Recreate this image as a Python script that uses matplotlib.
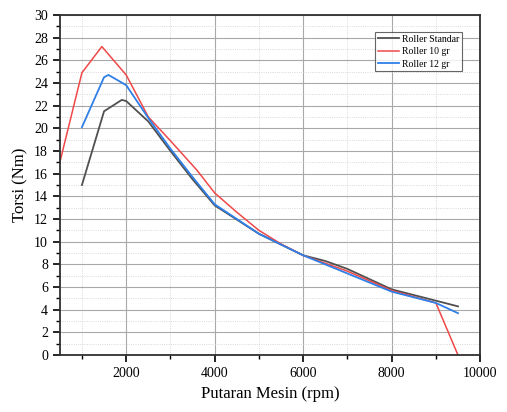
import numpy as np
import matplotlib.pyplot as plt
from matplotlib.ticker import MultipleLocator

rpm_std = [1000, 1500, 1900, 2000, 2500, 3000, 3500, 4000, 5000, 6000, 6500, 7000, 7500, 8000, 9000, 9500]
torsi_std = [15.0, 21.5, 22.5, 22.4, 20.6, 18.0, 15.5, 13.2, 10.7, 8.8, 8.3, 7.6, 6.7, 5.8, 4.8, 4.3]

rpm_10 = [500, 1000, 1450, 2000, 2500, 3000, 3600, 4000, 4500, 5000, 5500, 6000, 7000, 8000, 9000, 9500]
torsi_10 = [17.0, 24.9, 27.2, 24.7, 21.0, 18.9, 16.3, 14.3, 12.6, 11.0, 9.8, 8.8, 7.4, 5.7, 4.6, 0.0]

rpm_12 = [1000, 1500, 1600, 2000, 2500, 3000, 3500, 4000, 5000, 6000, 7000, 8000, 9000, 9500]
torsi_12 = [20.1, 24.5, 24.7, 23.8, 20.9, 18.2, 15.7, 13.3, 10.7, 8.8, 7.2, 5.6, 4.6, 3.7]

plt.rcParams['font.family'] = ['Liberation Serif', 'DejaVu Serif']

fig = plt.figure(figsize=(5.07, 4.12), dpi=100)
ax = fig.add_axes([0.118, 0.138, 0.829, 0.826])

ax.plot(rpm_std, torsi_std, color="#505050", lw=1.3, label="Roller Standar")
ax.plot(rpm_10, torsi_10, color="#f04848", lw=1.1, label="Roller 10 gr")
ax.plot(rpm_12, torsi_12, color="#2f7fe8", lw=1.3, label="Roller 12 gr")

ax.set_xlim(500, 10000)
ax.set_ylim(0, 30)
ax.xaxis.set_major_locator(MultipleLocator(2000))
ax.xaxis.set_minor_locator(MultipleLocator(1000))
ax.yaxis.set_major_locator(MultipleLocator(2))
ax.yaxis.set_minor_locator(MultipleLocator(1))

ax.grid(which="major", color="#a8a8a8", lw=0.8)
ax.grid(which="minor", color="#cccccc", lw=0.6, ls=":")
ax.set_axisbelow(True)

ax.tick_params(which="major", direction="out", length=5, width=1.2, labelsize=10)
ax.tick_params(which="minor", direction="out", length=3, width=1)
for s in ax.spines.values():
    s.set_linewidth(1.3)
    s.set_color("#303030")

ax.set_xlabel("Putaran Mesin (rpm)", fontsize=12)
ax.set_ylabel("Torsi (Nm)", fontsize=12)

leg = ax.legend(loc="upper right", bbox_to_anchor=(0.957, 0.95), borderaxespad=0,
                fontsize=7, frameon=True, fancybox=False, edgecolor="#404040",
                handlelength=2.2, borderpad=0.3, labelspacing=0.35, handletextpad=0.3)
leg.get_frame().set_linewidth(0.8)

fig.savefig("out.png", dpi=100)
